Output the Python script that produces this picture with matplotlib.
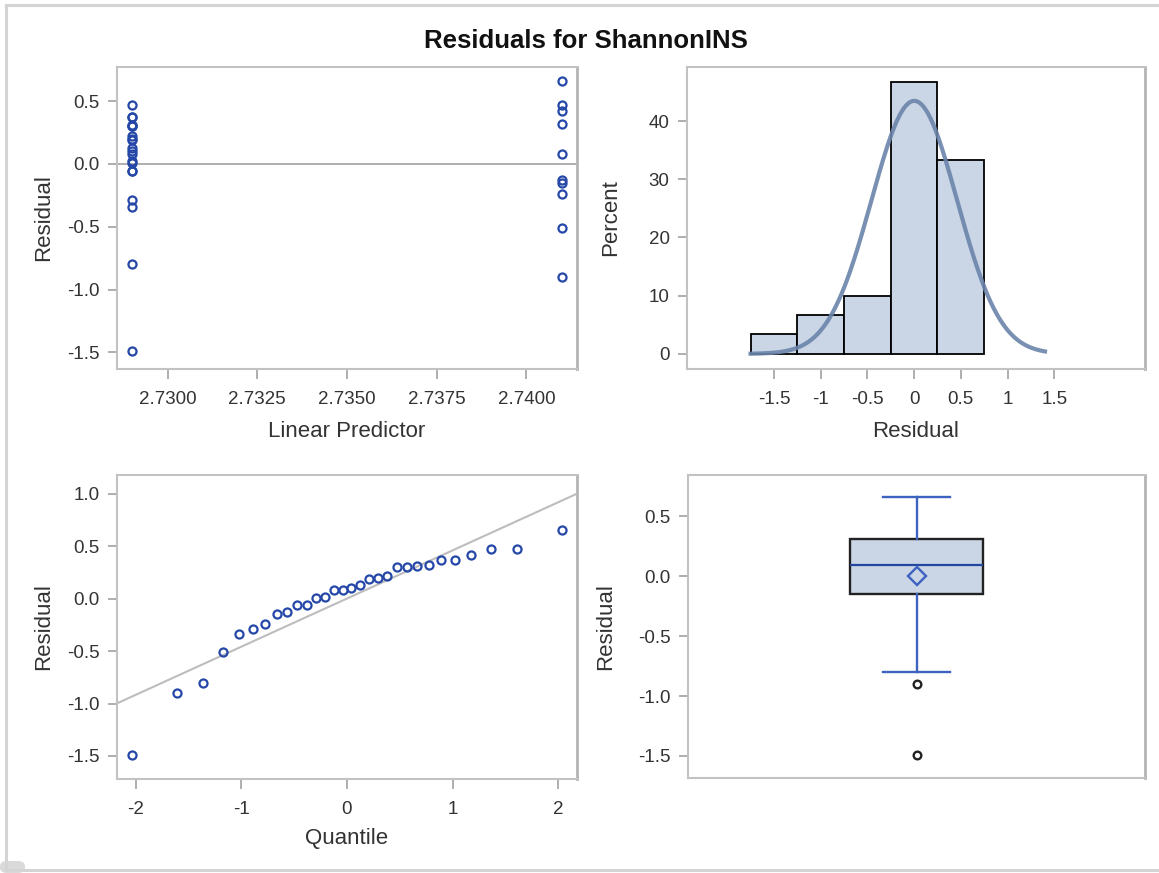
import numpy as np
import matplotlib
matplotlib.use("Agg")
import matplotlib.pyplot as plt
from matplotlib.lines import Line2D
from matplotlib.patches import FancyBboxPatch
from statistics import NormalDist

plt.rcParams['font.family'] = ['Liberation Sans', 'DejaVu Sans']

# ---------------- data ----------------
title = "Residuals for ShannonINS"
pred_levels = [2.7290, 2.7410]
resid_low = [-1.49, -0.80, -0.34, -0.29, -0.06, -0.06, 0.01, 0.02, 0.08, 0.10,
             0.13, 0.19, 0.20, 0.22, 0.30, 0.30, 0.31, 0.37, 0.37, 0.47]
resid_high = [0.66, 0.47, 0.42, 0.32, 0.08, -0.13, -0.15, -0.24, -0.51, -0.90]
hist_edges = [-1.75, -1.25, -0.75, -0.25, 0.25, 0.75]
scatter_xticks = [2.7300, 2.7325, 2.7350, 2.7375, 2.7400]
resid_ticks = [-1.5, -1.0, -0.5, 0.0, 0.5]
qq_yticks = [-1.5, -1.0, -0.5, 0.0, 0.5, 1.0]
qq_xticks = [-2, -1, 0, 1, 2]
hist_xticks = [-1.5, -1, -0.5, 0, 0.5, 1, 1.5]
hist_xlabels = ["-1.5", "-1", "-0.5", "0", "0.5", "1", "1.5"]
hist_yticks = [0, 10, 20, 30, 40]

resid = np.array(resid_low + resid_high)
pred = np.array([pred_levels[0]] * len(resid_low) + [pred_levels[1]] * len(resid_high))
n = len(resid)
mu = resid.mean()
sd = resid.std(ddof=1)

# ---------------- style ----------------
W, H = 1159, 873
MARK = '#2447A8'
SPINE = '#C2C2C2'
TICKC = '#A8A8A8'
TXT = '#333333'
FILL = '#CAD5E5'
FIT = '#6A84AA'
TICKFS = 13.5
LABFS = 16

fig = plt.figure(figsize=(W / 100, H / 100), dpi=100)

def axes_px(l, t, r, b):
    return fig.add_axes([l / W, 1 - b / H, (r - l) / W, (b - t) / H])

def style(ax):
    for s in ax.spines.values():
        s.set_color(SPINE)
        s.set_linewidth(1.5)
    ax.spines['right'].set_color('#B4B4B4')
    ax.spines['right'].set_linewidth(2)
    ax.tick_params(colors=TICKC, labelcolor=TXT, labelsize=TICKFS, width=1.3)
    ax.tick_params(axis='x', length=7, pad=9)
    ax.tick_params(axis='y', length=6.5, pad=6)

# outer frame
fc = '#D4D4D4'
fig.add_artist(Line2D([6 / W, 6 / W], [1 - 870 / H, 1 - 5 / H], color=fc, lw=2.2, transform=fig.transFigure))
fig.add_artist(Line2D([6 / W, 1], [1 - 5 / H, 1 - 5 / H], color=fc, lw=2.2, transform=fig.transFigure))
fig.add_artist(Line2D([6 / W, 1], [1 - 870 / H, 1 - 870 / H], color=fc, lw=2.2, transform=fig.transFigure))
fig.add_artist(FancyBboxPatch((0, 0), 25 / W, 12 / H, boxstyle="round,pad=0,rounding_size=0.006",
                              transform=fig.transFigure, facecolor='#DADADA', edgecolor='none'))

fig.text(586 / W, 1 - 41 / H, title, ha='center', va='center', fontsize=18.5,
         fontweight='bold', color='#111111')

# ---- top-left: residual vs linear predictor ----
ax1 = axes_px(117, 67, 577, 369)
style(ax1)
ax1.axhline(0, color='#A8A8A8', lw=1.3, zorder=1)
ax1.plot(pred, resid, 'o', mfc='none', mec=MARK, ms=5.8, mew=1.6, zorder=3)
ax1.set_xlim(2.72859, 2.74141)
ax1.set_ylim(-1.632, 0.771)
ax1.set_xticks(scatter_xticks)
ax1.set_xticklabels([f"{v:.4f}" for v in scatter_xticks])
ax1.set_yticks(resid_ticks)
ax1.set_yticklabels([f"{v:.1f}" for v in resid_ticks])
ax1.set_xlabel("Linear Predictor", fontsize=LABFS, color=TXT, labelpad=9)
ax1.set_ylabel("Residual", fontsize=LABFS, color=TXT, labelpad=9)

# ---- top-right: histogram ----
ax2 = axes_px(687, 67, 1145, 369)
style(ax2)
ax2.hist(resid, bins=hist_edges, weights=np.full(n, 100.0 / n), color=FILL,
         edgecolor='black', linewidth=1.3, zorder=2)
xs = np.linspace(-1.75, 1.4, 300)
binw = hist_edges[1] - hist_edges[0]
dens = np.array([NormalDist(mu, sd).pdf(x) for x in xs]) * binw * 100
ax2.plot(xs, dens, color=FIT, lw=3, alpha=0.9, zorder=3)
ax2.set_xlim(-2.43, 2.47)
ax2.set_ylim(-2.6, 49.3)
ax2.set_xticks(hist_xticks)
ax2.set_xticklabels(hist_xlabels)
ax2.set_yticks(hist_yticks)
ax2.set_xlabel("Residual", fontsize=LABFS, color=TXT, labelpad=9)
ax2.set_ylabel("Percent", fontsize=LABFS, color=TXT, labelpad=20)

# ---- bottom-left: QQ plot ----
ax3 = axes_px(117, 475, 577, 779)
style(ax3)
srt = np.sort(resid)
q = np.array([NormalDist().inv_cdf((i + 1 - 0.375) / (n + 0.25)) for i in range(n)])
xl = np.array([-2.2, 2.25])
ax3.plot(xl, mu + sd * xl, color='#BDBDBD', lw=1.5, zorder=1)
ax3.plot(q, srt, 'o', mfc='none', mec=MARK, ms=5.8, mew=1.6, zorder=3)
ax3.set_xlim(-2.18, 2.18)
ax3.set_ylim(-1.72, 1.18)
ax3.set_xticks(qq_xticks)
ax3.set_xticklabels([str(v) for v in qq_xticks])
ax3.set_yticks(qq_yticks)
ax3.set_yticklabels([f"{v:.1f}" for v in qq_yticks])
ax3.set_xlabel("Quantile", fontsize=LABFS, color=TXT, labelpad=7)
ax3.set_ylabel("Residual", fontsize=LABFS, color=TXT, labelpad=9)

# ---- bottom-right: box plot ----
ax4 = axes_px(688, 475, 1145, 778)
style(ax4)
bp = ax4.boxplot(resid, positions=[0], widths=0.29, patch_artist=True, showmeans=True,
                 whis=1.5,
                 boxprops=dict(facecolor=FILL, edgecolor='#222222', linewidth=1.7),
                 medianprops=dict(color='#2247A0', linewidth=1.6),
                 whiskerprops=dict(color='#3D63C0', linewidth=1.7),
                 capprops=dict(color='#3D63C0', linewidth=1.7),
                 capwidths=0.145,
                 meanprops=dict(marker='D', markerfacecolor='none', markeredgecolor='#3D63C0',
                                markersize=9.5, markeredgewidth=1.7),
                 flierprops=dict(marker='o', markerfacecolor='none', markeredgecolor='#222222',
                                 markersize=5.5, markeredgewidth=1.7))
ax4.set_xlim(-0.5, 0.5)
ax4.set_ylim(-1.684, 0.845)
ax4.set_xticks([])
ax4.set_yticks(resid_ticks)
ax4.set_yticklabels([f"{v:.1f}" for v in resid_ticks])
ax4.set_ylabel("Residual", fontsize=LABFS, color=TXT, labelpad=16)

fig.savefig("out.png", dpi=100)
